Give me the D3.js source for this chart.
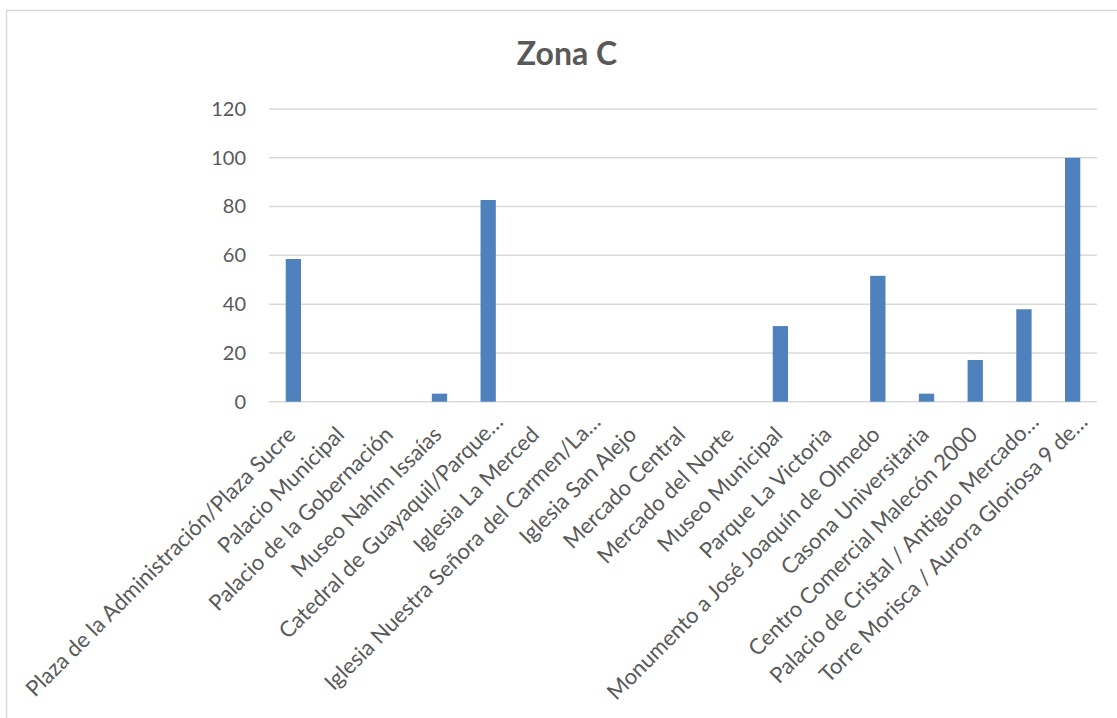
<!DOCTYPE html>
<html><head><meta charset="utf-8">
<script src="https://cdn.jsdelivr.net/npm/d3@7/dist/d3.min.js"></script>
<style>body{margin:0;background:#fff;} svg{display:block;}</style>
</head><body>
<svg id="chart" width="1117" height="718"></svg>
<script>
const title = "Zona C";
const categories = [
  "Plaza de la Administración/Plaza Sucre",
  "Palacio Municipal",
  "Palacio de la Gobernación",
  "Museo Nahím Issaías",
  "Catedral de Guayaquil/Parque…",
  "Iglesia La Merced",
  "Iglesia Nuestra Señora del Carmen/La…",
  "Iglesia San Alejo",
  "Mercado Central",
  "Mercado del Norte",
  "Museo Municipal",
  "Parque La Victoria",
  "Monumento a José Joaquín de Olmedo",
  "Casona Universitaria",
  "Centro Comercial Malecón 2000",
  "Palacio de Cristal / Antiguo Mercado…",
  "Torre Morisca / Aurora Gloriosa 9 de…"
];
const values = [58.5, 0, 0, 3.3, 82.7, 0, 0, 0, 0, 0, 31, 0, 51.6, 3.3, 17.1, 37.9, 100];
const yTicks = [0, 20, 40, 60, 80, 100, 120];

const svg = d3.select("#chart");
const font = "Lato, 'Open Sans', sans-serif";
const textColor = "#595959";

// outer chart border
svg.append("rect").attr("x", 6.5).attr("y", 10.5).attr("width", 1200).attr("height", 800)
  .attr("fill", "#fff").attr("stroke", "#d9d9d9").attr("stroke-width", 1.5);

const mLeft = 269, mRight = 1097, mTop = 109, mBottom = 401.7;
const x = d3.scaleBand().domain(categories).range([mLeft, mRight]).paddingInner(0).paddingOuter(0);
const y = d3.scaleLinear().domain([0, 120]).range([mBottom, mTop]);

// gridlines
svg.append("g").selectAll("line").data(yTicks).join("line")
  .attr("x1", mLeft).attr("x2", mRight)
  .attr("y1", d => y(d)).attr("y2", d => y(d))
  .attr("stroke", "#d9d9d9").attr("stroke-width", 1.5);

// y axis labels
const yAxis = d3.axisLeft(y).tickValues(yTicks).tickSize(0).tickPadding(23);
const gy = svg.append("g").attr("transform", `translate(${mLeft},0)`).call(yAxis);
gy.select(".domain").remove();
gy.selectAll("text").attr("font-family", font).attr("font-size", 20).attr("fill", textColor);

// bars
const bw = x.bandwidth() * 0.314;
svg.append("g").selectAll("rect").data(values).join("rect")
  .attr("x", (d, i) => x(categories[i]) + x.bandwidth() / 2 - bw / 2)
  .attr("width", bw)
  .attr("y", d => y(d))
  .attr("height", d => y(0) - y(d))
  .attr("fill", "#4f81bd");

// x axis labels
const xAxis = d3.axisBottom(x).tickSize(0).tickPadding(0);
const gx = svg.append("g").attr("transform", `translate(0,${mBottom})`).call(xAxis);
gx.select(".domain").remove();
gx.selectAll("text")
  .attr("font-family", font).attr("font-size", 22).attr("fill", textColor)
  .attr("text-anchor", "end")
  .attr("dy", null)
  .attr("dx", d => d.endsWith("…") ? 18 : 0)
  .attr("transform", "translate(3.6,34.3) rotate(-45)");

// title
svg.append("text").attr("x", 567).attr("y", 65).attr("text-anchor", "middle")
  .attr("font-family", font).attr("font-weight", "bold").attr("font-size", 32)
  .attr("fill", textColor).text(title);
</script>
</body></html>
